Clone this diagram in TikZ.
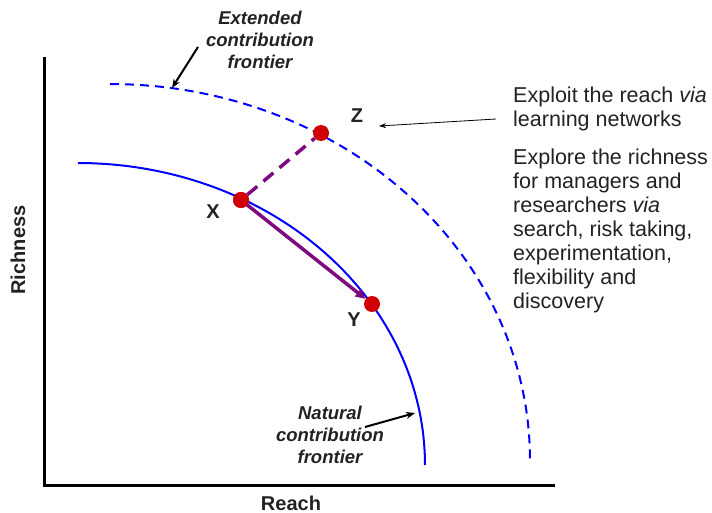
\documentclass[tikz,border=0pt]{standalone}
\usepackage{fontspec}
\setmainfont{Liberation Sans}
\usetikzlibrary{arrows.meta}
\definecolor{txt}{HTML}{222222}
\definecolor{dotred}{HTML}{D00000}
\definecolor{purp}{HTML}{7F0A80}
\tikzset{
  axis/.style={line width=3pt, black},
  frontier/.style={line width=2pt, blue},
  dot/.style={circle, fill=dotred, inner sep=0pt, minimum size=16pt},
  ptlabel/.style={font=\fontsize{20}{22}\selectfont\bfseries, text=txt},
  axlabel/.style={font=\fontsize{20}{22}\selectfont\bfseries, text=txt},
  note/.style={font=\fontsize{18.5}{22}\selectfont\bfseries\itshape, text=txt, align=center},
  body/.style={font=\fontsize{21.5}{24}\selectfont, text=txt, align=left, anchor=north west, inner sep=0pt},
  pointer/.style={black, line width=2pt, -{Stealth[length=9pt,width=7pt]}},
  thinpointer/.style={black, line width=0.8pt, -{Stealth[length=7pt,width=5pt]}}
}
\begin{document}
\begin{tikzpicture}[x=1pt,y=-1pt]
\useasboundingbox (0,0) rectangle (712,513);
% axes
\draw[axis] (44,57) -- (44,485) -- (555,485);
\node[axlabel, rotate=90] (richness) at (18,250) {Richness};
\node[axlabel] (reach) at (291,503) {Reach};
% frontiers
\draw[frontier] plot[domain=90:0, samples=80] ({78+347*cos(\x)},{465-302*sin(\x)});
\draw[frontier, dash pattern=on 9pt off 6pt] plot[domain=90:0, samples=80] ({110+420*cos(\x)},{460-376*sin(\x)});
% points
\node[dot] (X) at (241,200) {};
\node[dot] (Y) at (372,304) {};
\node[dot] (Z) at (321,133) {};
\draw[purp, line width=3.5pt, -{Triangle[length=10pt,width=9pt]}, shorten <=-4pt] (X) -- (Y);
\draw[purp, line width=3.5pt, dash pattern=on 13pt off 8pt] (X) -- (Z);
\node[dot] at (X) {};
\node[ptlabel] (lx) at (213,212) {X};
\node[ptlabel] (ly) at (354,320) {Y};
\node[ptlabel] (lz) at (357,116) {Z};
% annotations
\node[note] (ext) at (260,40) {Extended\\contribution\\frontier};
\coordinate (extTip) at (172,88);
\draw[pointer] (198,47) -- (extTip);
\node[note] (nat) at (330,435) {Natural\\contribution\\frontier};
\coordinate (natStart) at (365,427);
\coordinate (natTip) at (415,413);
\draw[pointer] (natStart) -- (natTip);
\node[body] (exploit) at (513,87) {Exploit the reach \textit{via}\\learning networks};
\node[body] (explore) at (513,149) {Explore the richness\\for managers and\\researchers \textit{via}\\search, risk taking,\\experimentation,\\flexibility and\\discovery};
\coordinate (zTip) at (379,126);
\draw[thinpointer] (496,119) -- (zTip);
\end{tikzpicture}
\end{document}
